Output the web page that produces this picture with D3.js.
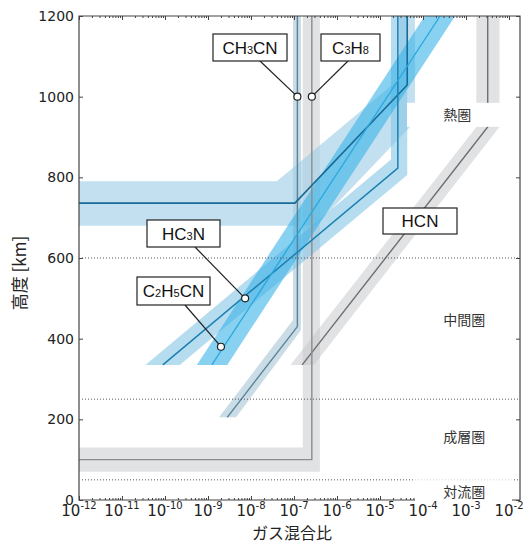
<!DOCTYPE html>
<html>
<head>
<meta charset="utf-8">
<script src="https://cdn.jsdelivr.net/npm/d3@7"></script>
<style>
body { margin: 0; background: #fff; }
text { font-family: "DejaVu Sans", sans-serif; }
</style>
</head>
<body>
<div id="chart"></div>
<script>
// axis data
let xTickExps = [-12, -11, -10, -9, -8, -7, -6, -5, -4, -3, -2];
let minorMults = [2, 3, 4, 5, 6, 7, 8, 9];
let yTicks = [0, 200, 400, 600, 800, 1000, 1200];
let boundaryAlts = [50, 250, 600];
let layerNames = ["熱圏", "中間圏", "成層圏", "対流圏"];
let layerAlts = [955, 446, 156, 20];

// profiles: [mixing ratio, altitude km]
let hcnLine = [[3.2e-3, 1200], [3.2e-3, 925], [1.55e-7, 335]];
let hcnBand = [[1.74e-3, 1200], [1.74e-3, 925], [8.3e-8, 335], [2.9e-7, 335], [6.0e-3, 925], [6.0e-3, 1200]];
let c3h8Line = [[2.6e-7, 1200], [2.6e-7, 100], [1e-12, 100]];
let c3h8Band = [[1.6e-7, 1200], [1.6e-7, 130], [1e-12, 130], [1e-12, 70], [4.0e-7, 70], [4.0e-7, 1200]];
let ch3cnLine = [[1.2e-7, 1200], [1.2e-7, 430], [2.8e-9, 205]];
let ch3cnBand = [[1.8e-9, 205], [9.5e-8, 446], [9.5e-8, 1200], [1.45e-7, 1200], [1.45e-7, 421], [4.5e-9, 205]];
let hc3nLine = [[2.6e-5, 1200], [2.6e-5, 823], [8.9e-11, 335]];
let hc3nBand = [[3.5e-11, 335], [1.8e-5, 844], [1.8e-5, 1200], [4.3e-5, 1200], [4.3e-5, 806], [2.2e-10, 335]];
let hc3nUpperLine = [[4.3e-5, 1200], [4.3e-5, 1029], [1.05e-7, 736], [1e-12, 736]];
let hc3nUpperBand = [[1e-12, 790], [4e-8, 790], [2.8e-5, 1044], [2.8e-5, 1200], [6.5e-5, 1200], [6.5e-5, 938], [3.2e-7, 680], [1e-12, 680]];
let c2h5cnLine = [[1.23e-9, 335], [2.5e-4, 1200]];
let c2h5cnBand = [[5.5e-10, 335], [1.1e-4, 1200], [5.6e-4, 1200], [2.8e-9, 335]];

// labels: name parts [text, subscript?], target point
let labelCH3CN = [["CH", 0], ["3", 1], ["CN", 0]];
let labelC3H8 = [["C", 0], ["3", 1], ["H", 0], ["8", 1]];
let labelHC3N = [["HC", 0], ["3", 1], ["N", 0]];
let labelC2H5CN = [["C", 0], ["2", 1], ["H", 0], ["5", 1], ["CN", 0]];
let labelHCN = [["HCN", 0]];
let targetCH3CN = [1.2e-7, 1000];
let targetC3H8 = [2.6e-7, 1000];
let targetHC3N = [7.3e-9, 500];
let targetC2H5CN = [2.0e-9, 380];

let width = 523, height = 543;
let margin = {top: 16, right: 3, bottom: 43, left: 79};

let svg = d3.select("#chart").append("svg")
	.attr("width", width)
	.attr("height", height);

let x = d3.scaleLog()
	.domain([1e-12, Math.pow(10, -1.744)])
	.range([margin.left, width - margin.right]);

let y = d3.scaleLinear()
	.domain([0, 1200])
	.range([height - margin.bottom, margin.top]);

let x0 = margin.left, x1 = width - margin.right;
let y0 = height - margin.bottom, y1 = margin.top;

let line = d3.line().x(d => x(d[0])).y(d => y(d[1]));

let plot = svg.append("g");

plot.append("clipPath").attr("id", "clip")
	.append("rect")
	.attr("x", x0).attr("y", y1)
	.attr("width", x1 - x0).attr("height", y0 - y1);

let area = plot.append("g").attr("clip-path", "url(#clip)");

function band(data, fill, op) {
	area.append("path")
		.attr("d", line(data) + "Z")
		.attr("fill", fill)
		.attr("fill-opacity", op);
}
function profile(data, stroke, w) {
	area.append("path")
		.attr("d", line(data))
		.attr("fill", "none")
		.attr("stroke", stroke)
		.attr("stroke-width", w);
}

// grey bands
band(hcnBand, "#c3c5c9", 0.5);
band(c3h8Band, "#c3c5c9", 0.5);
band(ch3cnBand, "#9fc0d2", 0.55);
// blue bands
band(hc3nUpperBand, "#a2cfe6", 0.65);
band(hc3nBand, "#86c5e6", 0.6);
band(c2h5cnBand, "#38b2e8", 0.6);

profile(hcnLine, "#6e6e6e", 1.4);
profile(c3h8Line, "#8c8c8c", 1.4);
profile(ch3cnLine, "#5a8299", 1.4);
profile(hc3nUpperLine, "#176b96", 1.6);
profile(hc3nLine, "#1c80b2", 1.5);
profile(c2h5cnLine, "#2aa8de", 1.3);

// dotted layer boundaries
svg.append("g").selectAll("line")
	.data(boundaryAlts)
	.enter()
	.append("line")
	.attr("x1", x0 + 3).attr("x2", x1 - 2)
	.attr("y1", d => y(d)).attr("y2", d => y(d))
	.attr("stroke", "#555")
	.attr("stroke-width", 1)
	.attr("stroke-dasharray", "1,2");

// white masks behind layer names
svg.append("rect")
	.attr("x", 407).attr("y", y(layerAlts[0]) - 12)
	.attr("width", x1 - 408).attr("height", 24)
	.attr("fill", "#fff");
svg.append("rect")
	.attr("x", 415).attr("y", y(50) - 4)
	.attr("width", 97).attr("height", 6)
	.attr("fill", "#fff").attr("fill-opacity", 0.75);

// axes: ticks inward
let xMajor = xTickExps.map(e => Math.pow(10, e));
let xMinor = [];
xTickExps.forEach(e => minorMults.forEach(m => {
	let v = m * Math.pow(10, e);
	if (v < x.domain()[1]) xMinor.push(v);
}));

let axisColor = "#444";

svg.append("g")
	.attr("transform", "translate(0," + y0 + ")")
	.call(d3.axisBottom(x).tickValues(xMajor).tickSize(-4).tickFormat(""))
	.call(g => g.select(".domain").remove());
svg.append("g")
	.attr("transform", "translate(0," + y0 + ")")
	.call(d3.axisBottom(x).tickValues(xMinor).tickSize(-2).tickFormat(""))
	.call(g => g.select(".domain").remove());
svg.append("g")
	.attr("transform", "translate(0," + y1 + ")")
	.call(d3.axisTop(x).tickValues(xMajor).tickSize(-4).tickFormat(""))
	.call(g => g.select(".domain").remove());
svg.append("g")
	.attr("transform", "translate(0," + y1 + ")")
	.call(d3.axisTop(x).tickValues(xMinor).tickSize(-2).tickFormat(""))
	.call(g => g.select(".domain").remove());
svg.append("g")
	.attr("transform", "translate(" + x0 + ",0)")
	.call(d3.axisLeft(y).tickValues(yTicks).tickSize(-4).tickFormat(""))
	.call(g => g.select(".domain").remove());
svg.append("g")
	.attr("transform", "translate(" + x1 + ",0)")
	.call(d3.axisRight(y).tickValues(yTicks).tickSize(-4).tickFormat(""))
	.call(g => g.select(".domain").remove());
svg.selectAll(".tick line").attr("stroke", axisColor);

// hide bottom spine + ticks behind troposphere label
svg.append("rect")
	.attr("x", 416).attr("y", y0 - 5)
	.attr("width", 96).attr("height", 7)
	.attr("fill", "#fff");

// spines
svg.append("path")
	.attr("d", "M" + 415 + "," + y0 + "H" + x0 + "V" + y1 + "H" + x1 + "V" + y0 + "H" + 512)
	.attr("fill", "none")
	.attr("stroke", axisColor)
	.attr("stroke-width", 1.2);

// layer names (on top of the masks)
svg.append("g").selectAll("text")
	.data(layerNames)
	.enter()
	.append("text")
	.attr("x", x(2.95e-4))
	.attr("y", (d, i) => y(layerAlts[i]) + 5)
	.style("font-family", "'Noto Sans CJK JP'")
	.style("font-size", "14px")
	.attr("fill", "#333")
	.text(d => d);

// tick labels
svg.append("g").selectAll("text")
	.data(yTicks)
	.enter()
	.append("text")
	.attr("x", x0 - 5)
	.attr("y", d => y(d) + 5)
	.attr("text-anchor", "end")
	.style("font-size", "14px")
	.attr("fill", "#222")
	.text(d => d);

let xl = svg.append("g").selectAll("text")
	.data(xTickExps)
	.enter()
	.append("text")
	.attr("x", d => x(Math.pow(10, d)))
	.attr("y", y0 + 16)
	.attr("text-anchor", "middle")
	.attr("fill", "#222");
xl.append("tspan").style("font-size", "15px").text("10");
xl.append("tspan").style("font-size", "10px").attr("dy", -7).text(d => "-" + Math.abs(d));

// axis titles
svg.append("text")
	.attr("transform", "translate(26," + 273 + ")rotate(-90)")
	.attr("text-anchor", "middle")
	.style("font-family", "'Noto Sans CJK JP'")
	.style("font-size", "17px")
	.attr("fill", "#222")
	.text("高度 [km]");
svg.append("text")
	.attr("x", 292)
	.attr("y", 539)
	.attr("text-anchor", "middle")
	.style("font-family", "'Noto Sans CJK JP'")
	.style("font-size", "16px")
	.attr("fill", "#222")
	.text("ガス混合比");

// labelled boxes with leaders
function labelBox(parts, cx, cy, w, h, target) {
	let g = svg.append("g");
	if (target) {
		g.append("line")
			.attr("x1", target[0]).attr("y1", target[1])
			.attr("x2", target[2]).attr("y2", target[3])
			.attr("stroke", "#222").attr("stroke-width", 1.2);
	}
	g.append("rect")
		.attr("x", cx - w / 2).attr("y", cy - h / 2)
		.attr("width", w).attr("height", h)
		.attr("fill", "#fff")
		.attr("stroke", "#222").attr("stroke-width", 1.2);
	let t = g.append("text")
		.attr("x", cx).attr("y", cy + 6)
		.attr("text-anchor", "middle")
		.style("font-family", "'Liberation Sans', Arial, sans-serif")
		.attr("fill", "#111");
	parts.forEach(p => {
		t.append("tspan")
			.style("font-size", p[1] ? "11px" : "17px")
			.text(p[0]);
	});
	if (target) {
		g.append("circle")
			.attr("cx", target[0]).attr("cy", target[1])
			.attr("r", 3.5)
			.attr("fill", "#fff")
			.attr("stroke", "#222").attr("stroke-width", 1.2);
	}
}

labelBox(labelCH3CN, 250, 47.5, 74, 27, [x(targetCH3CN[0]), y(targetCH3CN[1]), 260, 61]);
labelBox(labelC3H8, 350.5, 47.5, 59, 27, [x(targetC3H8[0]), y(targetC3H8[1]), 348, 61]);
labelBox(labelHC3N, 183.5, 233.5, 73, 27, [x(targetHC3N[0]), y(targetHC3N[1]), 195, 247]);
labelBox(labelC2H5CN, 173.5, 291, 73, 28, [x(targetC2H5CN[0]), y(targetC2H5CN[1]), 185, 305]);
labelBox(labelHCN, 420, 221, 74, 26, null);
</script>
</body>
</html>
